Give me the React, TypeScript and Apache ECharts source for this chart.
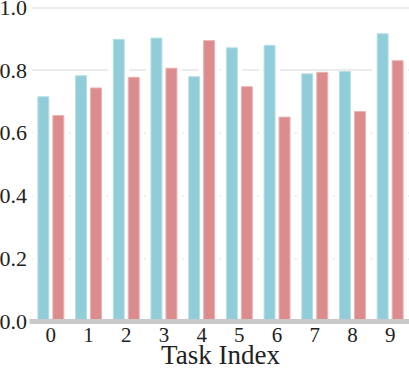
import React, { useEffect, useRef } from "react";
import * as echarts from "echarts";

const categories = ["0", "1", "2", "3", "4", "5", "6", "7", "8", "9"];
const seriesBlue = [0.717, 0.784, 0.9, 0.904, 0.781, 0.873, 0.881, 0.79, 0.798, 0.918];
const seriesRed = [0.657, 0.745, 0.779, 0.808, 0.896, 0.749, 0.652, 0.795, 0.67, 0.832];
const xAxisTitle = "Task Index";
const yMin = 0;
const yMax = 1;
const yStep = 0.2;

const FONT = "Liberation Serif, Times New Roman, serif";
const BLUE = "#91CDD8";
const RED = "#DC8C8C";

export default function App() {
  const ref = useRef<HTMLDivElement>(null);
  useEffect(() => {
    document.body.style.margin = "0";
    if (!ref.current) return;
    const chart = echarts.init(ref.current, undefined, { renderer: "svg" });
    const backing = (data: number[]) => ({
      type: "bar",
      xAxisIndex: 1,
      data,
      barWidth: 21,
      barGap: "-29%",
      z: 1,
      silent: true,
      itemStyle: { color: "#ffffff" },
    });
    const colored = (data: number[], color: string, edge: string) => ({
      type: "bar",
      xAxisIndex: 0,
      data,
      barWidth: 12,
      barGap: "25%",
      z: 2,
      itemStyle: { color, borderColor: edge, borderWidth: 1 },
    });
    chart.setOption({
      animation: false,
      backgroundColor: "#ffffff",
      textStyle: { fontFamily: FONT },
      grid: {
        left: 32,
        right: 0,
        top: 7.5,
        bottom: 52,
        containLabel: false,
        outerBoundsMode: "none",
      },
      xAxis: [
        {
          type: "category",
          data: categories,
          z: 5,
          axisLine: { show: true, lineStyle: { color: "#c9c9c9", width: 5, cap: "square" } },
          axisTick: { show: false },
          axisLabel: {
            fontFamily: FONT,
            fontSize: 21,
            lineHeight: 16,
            color: "#222222",
            margin: 5.5,
          },
          name: xAxisTitle,
          nameLocation: "middle",
          nameGap: 22.5,
          nameMoveOverlap: false,
          nameTextStyle: { fontFamily: FONT, fontSize: 27, lineHeight: 22, color: "#222222" },
          splitLine: { show: false },
        },
        {
          type: "category",
          data: categories,
          show: false,
          gridIndex: 0,
        },
      ],
      yAxis: {
        type: "value",
        min: yMin,
        max: yMax,
        interval: yStep,
        axisLine: { show: false },
        axisTick: { show: false },
        axisLabel: {
          fontFamily: FONT,
          fontSize: 22,
          lineHeight: 14,
          color: "#222222",
          margin: 5,
          formatter: (v: number) => v.toFixed(1),
        },
        splitLine: { show: true, lineStyle: { color: "#e4e4e4", width: 1.5 } },
      },
      series: [
        backing(seriesBlue),
        backing(seriesRed),
        colored(seriesBlue, BLUE, "#b9e0e7"),
        colored(seriesRed, RED, "#ebb5b5"),
      ],
    });
    return () => chart.dispose();
  }, []);
  return <div ref={ref} style={{ width: 409, height: 373 }} />;
}
